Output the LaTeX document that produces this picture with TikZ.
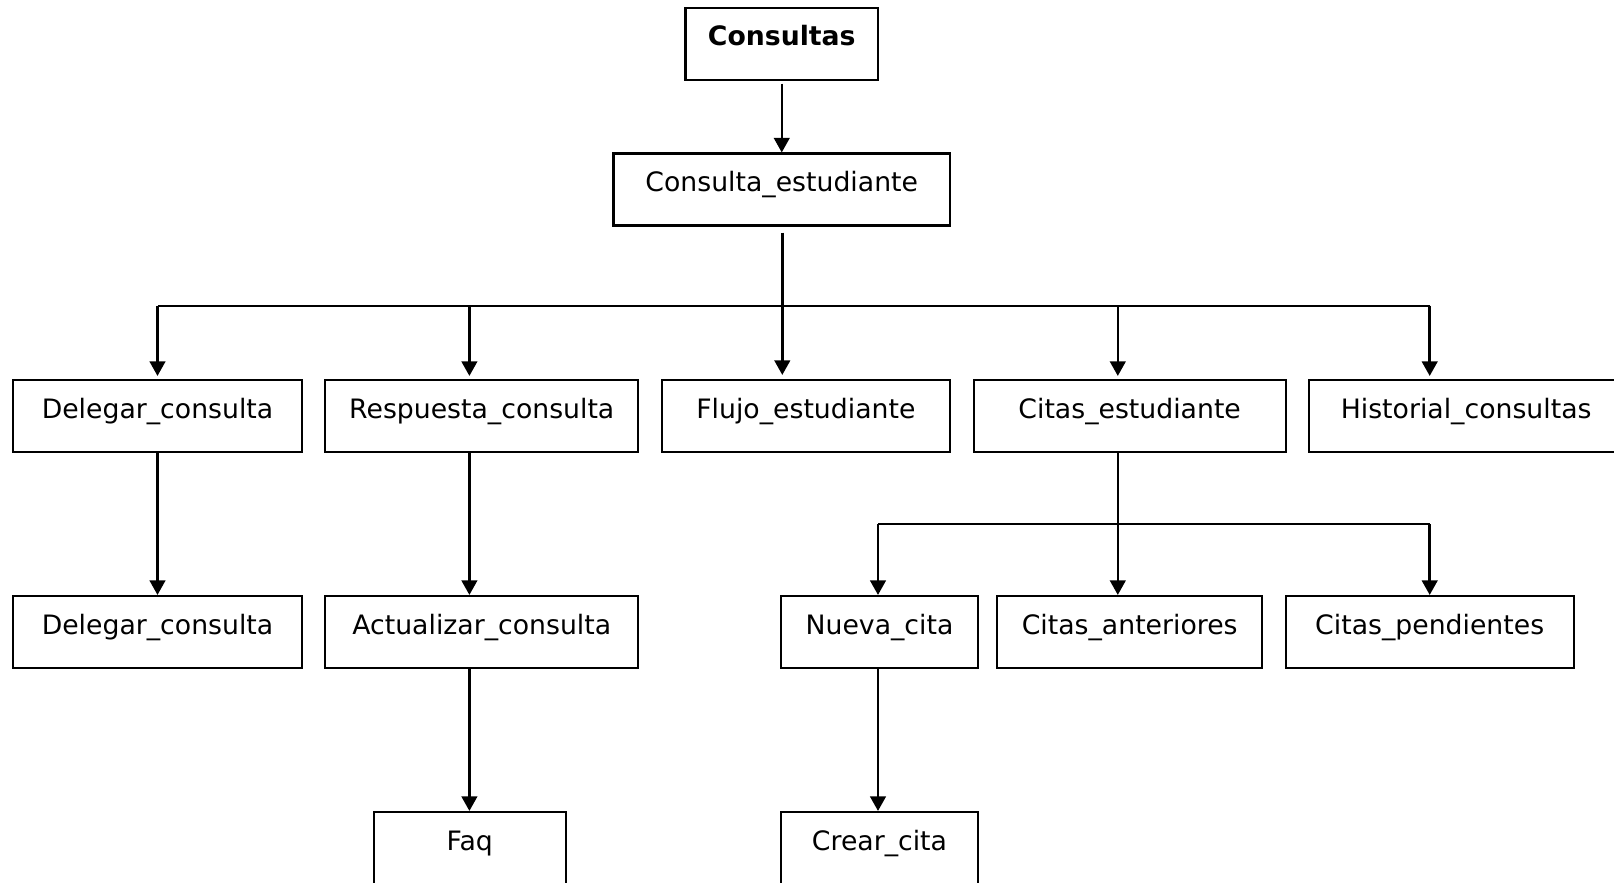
\documentclass[tikz,border=0pt]{standalone}
\usepackage{fontspec}
\setmainfont{DejaVu Sans}
\usetikzlibrary{arrows.meta}
\begin{document}
\begin{tikzpicture}[x=1pt,y=-1pt,
  box/.style={draw,line width=2.1pt,rectangle,inner sep=0pt,
    minimum height=72pt,text height=38pt,text depth=34pt,
    font=\fontsize{26.7}{32}\selectfont},
  conn/.style={line width=2.2pt,line join=miter},
  arr/.style={line width=2.5pt,-{Triangle[length=14.5pt,width=15.5pt]}}]
\useasboundingbox (0,0) rectangle (1614,883);
% level 0 / 1
\node[box,minimum width=192.5pt,font=\fontsize{26.7}{32}\selectfont\bfseries] (cons) at (781.75,44) {Consultas};
\node[box,minimum width=336.5pt] (cest) at (781.75,189.5) {Consulta\_estudiante};
% row 1
\node[box,minimum width=288.2pt] (del1) at (157.5,416) {Delegar\_consulta};
\node[box,minimum width=313pt] (resp) at (481.75,416) {Respuesta\_consulta};
\node[box,minimum width=288.2pt] (flujo) at (805.9,416) {Flujo\_estudiante};
\node[box,minimum width=312pt] (citas) at (1129.65,416) {Citas\_estudiante};
\node[box,minimum width=313.7pt] (hist) at (1466.15,416) {Historial\_consultas};
% row 2
\node[box,minimum width=288.2pt] (del2) at (157.5,632) {Delegar\_consulta};
\node[box,minimum width=313pt] (act) at (481.75,632) {Actualizar\_consulta};
\node[box,minimum width=196.5pt] (nueva) at (879.5,632) {Nueva\_cita};
\node[box,minimum width=264.6pt] (ant) at (1129.7,632) {Citas\_anteriores};
\node[box,minimum width=288.2pt] (pend) at (1429.7,632) {Citas\_pendientes};
% row 3
\node[box,minimum width=192.4pt] (faq) at (469.8,848) {Faq};
\node[box,minimum width=196.5pt] (crear) at (879.5,848) {Crear\_cita};
% bus coordinates
\coordinate (b1) at (157.5,305.7);
\coordinate (b2) at (469.4,305.7);
\coordinate (bm) at (782.3,305.7);
\coordinate (b4) at (1117.8,305.7);
\coordinate (b5) at (1429.7,305.7);
\coordinate (s1) at (878,524);
\coordinate (s2) at (1117.8,524);
\coordinate (s3) at (1429.7,524);
% connectors
\draw[arr,shorten <=2.5pt] (cons.south) -- (cest.north);
\draw[conn] (b1) -- (b5);
\draw[arr,shorten <=6pt,shorten >=4pt] (cest.south -| bm) -- (bm |- flujo.north);
\draw[arr,shorten >=3pt] (b1) -- (b1 |- del1.north);
\draw[arr,shorten >=3pt] (b2) -- (b2 |- resp.north);
\draw[arr,shorten >=3pt] (b4) -- (b4 |- citas.north);
\draw[arr,shorten >=3pt] (b5) -- (b5 |- hist.north);
\draw[arr] (del1.south) -- (del2.north);
\draw[arr] (resp.south -| b2) -- (b2 |- act.north);
\draw[arr] (act.south -| b2) -- (b2 |- faq.north);
\draw[conn] (s1) -- (s3);
\draw[arr] (citas.south -| s2) -- (s2 |- ant.north);
\draw[arr] (s1) -- (s1 |- nueva.north);
\draw[arr] (s3) -- (s3 |- pend.north);
\draw[arr] (nueva.south -| s1) -- (s1 |- crear.north);
\end{tikzpicture}
\end{document}
